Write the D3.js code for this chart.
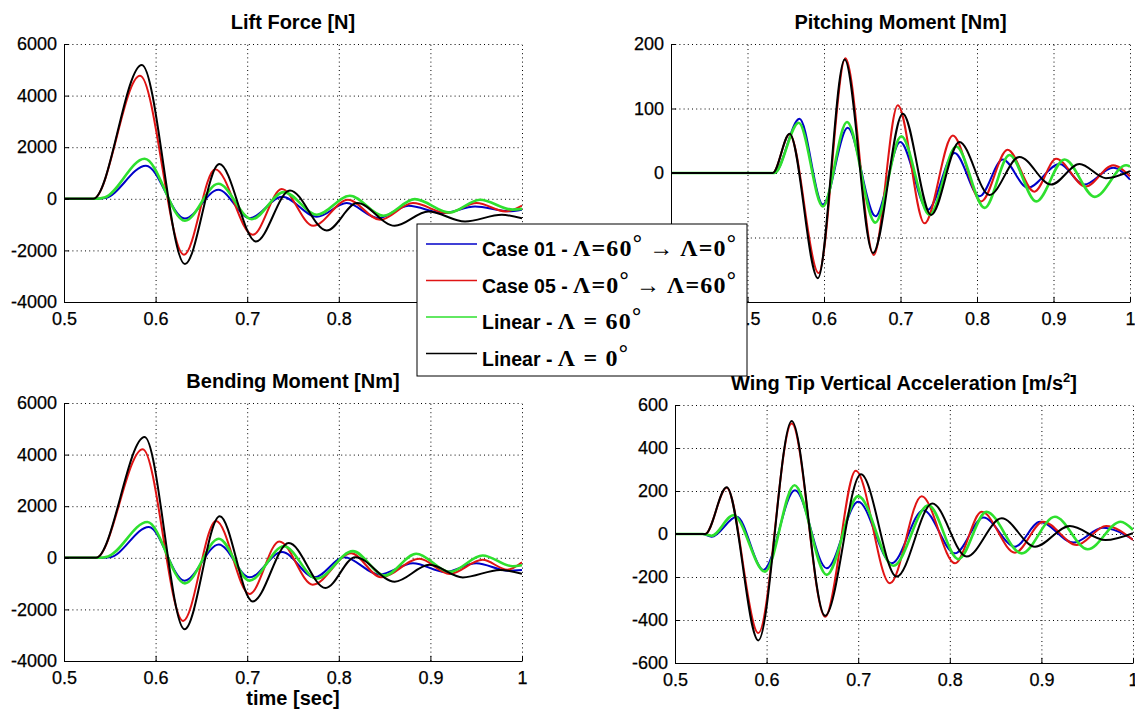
<!DOCTYPE html>
<html>
<head>
<meta charset="utf-8">
<script src="https://cdn.jsdelivr.net/npm/d3@7"></script>
<style>
body{margin:0;background:#fff}
svg{display:block;font-family:"Liberation Sans",Arial,sans-serif}
.tick text{font-size:18px;fill:#000;stroke:#000;stroke-width:0.25}
.axis path,.axis line{stroke:#000;stroke-width:1}
.grid line{stroke:#000;stroke-width:1;stroke-dasharray:1,3.2}
.grid path{display:none}
.title{font-size:20px;font-weight:bold}
</style>
</head>
<body>
<svg id="chart" width="1135" height="716"></svg>
<script>
// [time, value] (peaks / troughs)
const liftCase01 = [[0.5,0],[0.535,0],[0.545,30],[0.5895,1279],[0.632,-760],[0.6685,350],[0.703,-750],[0.738,80],[0.776,-700],[0.8086,-167],[0.843,-750],[0.876,-271],[0.914,-555],[0.9487,-297],[0.985,-480],[1.0,-420]];
const liftCase05 = [[0.5,0],[0.532,0],[0.583,4767],[0.631,-2170],[0.665,1150],[0.706,-1395],[0.7376,376],[0.772,-1047],[0.810,-39],[0.845,-814],[0.881,-167],[0.918,-555],[0.9505,-167],[0.982,-490],[1.0,-260]];
const liftLin60  = [[0.5,0],[0.535,0],[0.545,60],[0.588,1550],[0.632,-850],[0.6685,581],[0.705,-790],[0.740,260],[0.776,-620],[0.812,116],[0.8486,-659],[0.883,-12],[0.921,-530],[0.954,-39],[0.99,-420],[1.0,-390]];
const liftLin0   = [[0.5,0],[0.532,0],[0.585,5190],[0.632,-2530],[0.6696,1345],[0.7096,-1654],[0.7467,322],[0.7868,-1228],[0.820,-167],[0.861,-1047],[0.8977,-492],[0.9378,-880],[0.978,-620],[1.0,-760]];

const pitchCase01 = [[0.4,0],[0.535,0],[0.568,84],[0.5985,-49],[0.631,70],[0.6673,-67],[0.6996,48],[0.7357,-57],[0.7706,31],[0.8033,-36],[0.8337,21],[0.8664,-23],[0.9078,14],[0.94,-18],[0.978,8],[1.0,-10]];
const pitchCase05 = [[0.4,0],[0.533,0],[0.555,60],[0.593,-155],[0.628,178],[0.665,-127],[0.6965,105],[0.7314,-78],[0.7684,58],[0.8055,-44],[0.840,36],[0.875,-29],[0.9035,22],[0.942,-21],[0.978,12],[1.0,-5]];
const pitchLin60  = [[0.4,0],[0.535,0],[0.567,78],[0.5985,-52],[0.630,79],[0.667,-77],[0.701,57],[0.738,-65],[0.7728,41],[0.81,-54],[0.8425,28],[0.8774,-44],[0.9144,21],[0.954,-37],[0.995,12],[1.0,10]];
const pitchLin0   = [[0.4,0],[0.533,0],[0.555,61],[0.592,-163],[0.627,176],[0.664,-124],[0.703,92],[0.740,-65],[0.777,48],[0.8163,-34],[0.8556,25],[0.897,-18],[0.934,14],[0.9685,-8],[1.0,3]];

const bendCase01 = [[0.5,0],[0.538,0],[0.55,20],[0.5926,1194],[0.6316,-885],[0.669,518],[0.7025,-757],[0.738,220],[0.7735,-757],[0.806,23],[0.844,-651],[0.881,-210],[0.916,-546],[0.95,-210],[0.985,-500],[1.0,-470]];
const bendCase05 = [[0.5,0],[0.535,0],[0.586,4212],[0.630,-2445],[0.666,1430],[0.7025,-1404],[0.735,636],[0.7716,-1040],[0.8135,180],[0.846,-757],[0.888,-39],[0.921,-624],[0.957,-78],[0.984,-460],[1.0,-170]];
const bendLin60  = [[0.5,0],[0.538,0],[0.548,50],[0.591,1390],[0.632,-990],[0.669,740],[0.7025,-885],[0.74,450],[0.776,-806],[0.8153,257],[0.85,-690],[0.8845,156],[0.921,-546],[0.957,90],[0.99,-330],[1.0,-290]];
const bendLin0   = [[0.5,0],[0.535,0],[0.588,4680],[0.6316,-2770],[0.670,1610],[0.706,-1690],[0.7454,570],[0.7855,-1170],[0.818,23],[0.861,-924],[0.899,-273],[0.9354,-760],[0.976,-470],[1.0,-620]];

const accCase01 = [[0.5,0],[0.53,0],[0.54,-13],[0.5674,80],[0.5965,-167],[0.631,204],[0.6656,-159],[0.7,150],[0.7366,-136],[0.771,111],[0.8057,-90],[0.8367,77],[0.8712,-59],[0.8985,57],[0.935,-40],[0.967,29],[1.0,-26]];
const accCase05 = [[0.5,0],[0.533,0],[0.5564,215],[0.591,-461],[0.6274,514],[0.6638,-385],[0.6973,294],[0.7347,-229],[0.7693,176],[0.8057,-136],[0.8348,103],[0.8712,-87],[0.902,57],[0.9386,-51],[0.9706,37],[1.0,-28]];
const accLin60  = [[0.5,0],[0.53,0],[0.54,-8],[0.5637,87],[0.5983,-175],[0.6305,227],[0.6656,-190],[0.7,176],[0.7384,-148],[0.7766,134],[0.8094,-117],[0.840,103],[0.8785,-90],[0.9148,80],[0.9505,-71],[0.9866,57],[1.0,19]];
const accLin0   = [[0.5,0],[0.533,0],[0.5564,217],[0.591,-495],[0.6274,526],[0.6638,-380],[0.703,278],[0.742,-198],[0.781,142],[0.8184,-105],[0.8567,73],[0.893,-59],[0.931,37],[0.970,-28],[1.0,4]];

const timeTicks = [0.5,0.6,0.7,0.8,0.9,1];
const pitchTimeTicks = [0.4,0.5,0.6,0.7,0.8,0.9,1];
const forceTicks = [-4000,-2000,0,2000,4000,6000];
const pitchTicks = [-200,-100,0,100,200];
const accTicks = [-600,-400,-200,0,200,400,600];

const seriesColors = ["#0000c8","#e01414","#2ee02e","#000000"];
const legendLabels = [
  [["Case 01 - ","s"],["Λ=60","r"],["°","d"],[" → ","r"],["Λ=0","r"],["°","d"]],
  [["Case 05 - ","s"],["Λ=0","r"],["°","d"],[" → ","r"],["Λ=60","r"],["°","d"]],
  [["Linear - ","s"],["Λ = 60","r"],["°","d"]],
  [["Linear - ","s"],["Λ = 0","r"],["°","d"]]
];

const svg = d3.select("#chart");

const panels = [
  {title:"Lift Force [N]", box:[64,44,522,302], xDom:[0.5,1], xTicks:timeTicks, yDom:[-4000,6000], yTicks:forceTicks,
   series:[liftCase01,liftCase05,liftLin60,liftLin0]},
  {title:"Pitching Moment [Nm]", box:[671,44,1130,302], xDom:[0.4,1], xTicks:pitchTimeTicks, yDom:[-200,200], yTicks:pitchTicks,
   series:[pitchCase01,pitchCase05,pitchLin60,pitchLin0]},
  {title:"Bending Moment [Nm]", box:[64,403,522,661], xDom:[0.5,1], xTicks:timeTicks, yDom:[-4000,6000], yTicks:forceTicks,
   series:[bendCase01,bendCase05,bendLin60,bendLin0], xlabel:"time [sec]"},
  {title:"Wing Tip Vertical Acceleration [m/s", sup:"2", tail:"]", box:[675,405,1133,663], xDom:[0.5,1], xTicks:timeTicks, yDom:[-600,600], yTicks:accTicks,
   series:[accCase01,accCase05,accLin60,accLin0]}
];

const fmt = (d)=>String(d);

panels.forEach((p,i)=>
{
    let [x0,y0,x1,y1] = p.box;
    let w = x1-x0, h = y1-y0;
    let x = d3.scaleLinear(p.xDom,[0,w]);
    let y = d3.scaleLinear(p.yDom,[h,0]);

    let g = svg.append("g").attr("transform","translate("+x0+","+y0+")");

    // dotted grid
    g.append("g").classed("grid",true)
     .attr("transform","translate(0,"+h+")")
     .call(d3.axisBottom(x).tickValues(p.xTicks).tickSize(-h).tickFormat(""));
    g.append("g").classed("grid",true)
     .call(d3.axisLeft(y).tickValues(p.yTicks).tickSize(-w).tickFormat(""));

    g.append("clipPath").attr("id","clip"+i)
     .append("rect").attr("width",w).attr("height",h);

    let line = d3.line()
        .x((d)=>x(d[0]))
        .y((d)=>y(d[1]))
        .curve(d3.curveMonotoneX);

    g.append("g").attr("clip-path","url(#clip"+i+")")
     .selectAll("path")
     .data(p.series)
     .enter()
     .append("path")
     .attr("d",line)
     .attr("fill","none")
     .attr("stroke",(d,k)=>seriesColors[k])
     .attr("stroke-width",(d,k)=> k==2 ? 2.6 : 2)
     .attr("stroke-linejoin","round");

    // axes, ticks inward
    g.append("g").classed("axis",true)
     .attr("transform","translate(0,"+h+")")
     .call(d3.axisBottom(x).tickValues(p.xTicks).tickSizeInner(-5).tickSizeOuter(0).tickPadding(10).tickFormat(fmt));
    g.append("g").classed("axis",true)
     .call(d3.axisLeft(y).tickValues(p.yTicks).tickSizeInner(-5).tickSizeOuter(0).tickPadding(7).tickFormat(fmt));

    let title = svg.append("text").classed("title",true)
        .attr("x",x0+w/2).attr("y",y0-15)
        .attr("text-anchor","middle")
        .text(p.title);
    if(p.sup)
    {
        title.append("tspan").attr("font-size",13).attr("dy",-8).text(p.sup);
        title.append("tspan").attr("dy",8).text(p.tail);
    }

    if(p.xlabel)
    {
        svg.append("text").classed("title",true)
         .attr("x",x0+w/2).attr("y",y1+44)
         .attr("text-anchor","middle")
         .text(p.xlabel);
    }
});

// legend
let legend = svg.append("g").attr("transform","translate(417,224)");
legend.append("rect")
 .attr("width",330).attr("height",152)
 .attr("fill","#fff").attr("stroke","#000").attr("stroke-width",1);

let rows = legend.selectAll("g.entry")
 .data(legendLabels)
 .enter()
 .append("g")
 .classed("entry",true)
 .attr("transform",(d,k)=>"translate(0,"+(20+k*36.5)+")");

rows.append("line")
 .attr("x1",9).attr("x2",60)
 .attr("y1",0).attr("y2",0)
 .attr("stroke",(d,k)=>seriesColors[k])
 .attr("stroke-width",1.6);

rows.append("text")
 .attr("x",65).attr("y",12)
 .attr("font-weight","bold")
 .each(function(parts)
 {
     let t = d3.select(this);
     let raised = false;
     parts.forEach(([s,kind])=>
     {
         let sp = t.append("tspan").text(s);
         if(kind=="s") { sp.attr("font-size",19.5); }
         else if(kind=="r")
         {
             sp.attr("font-family","'Liberation Serif','Times New Roman',serif")
               .attr("font-size",24).attr("letter-spacing",1.2);
         }
         if(kind=="d")
         {
             sp.attr("font-family","'Liberation Serif',serif").attr("font-size",23).attr("dy",-5);
             raised = true;
         }
         else if(raised)
         {
             sp.attr("dy",5);
             raised = false;
         }
     });
 });
</script>
</body>
</html>
